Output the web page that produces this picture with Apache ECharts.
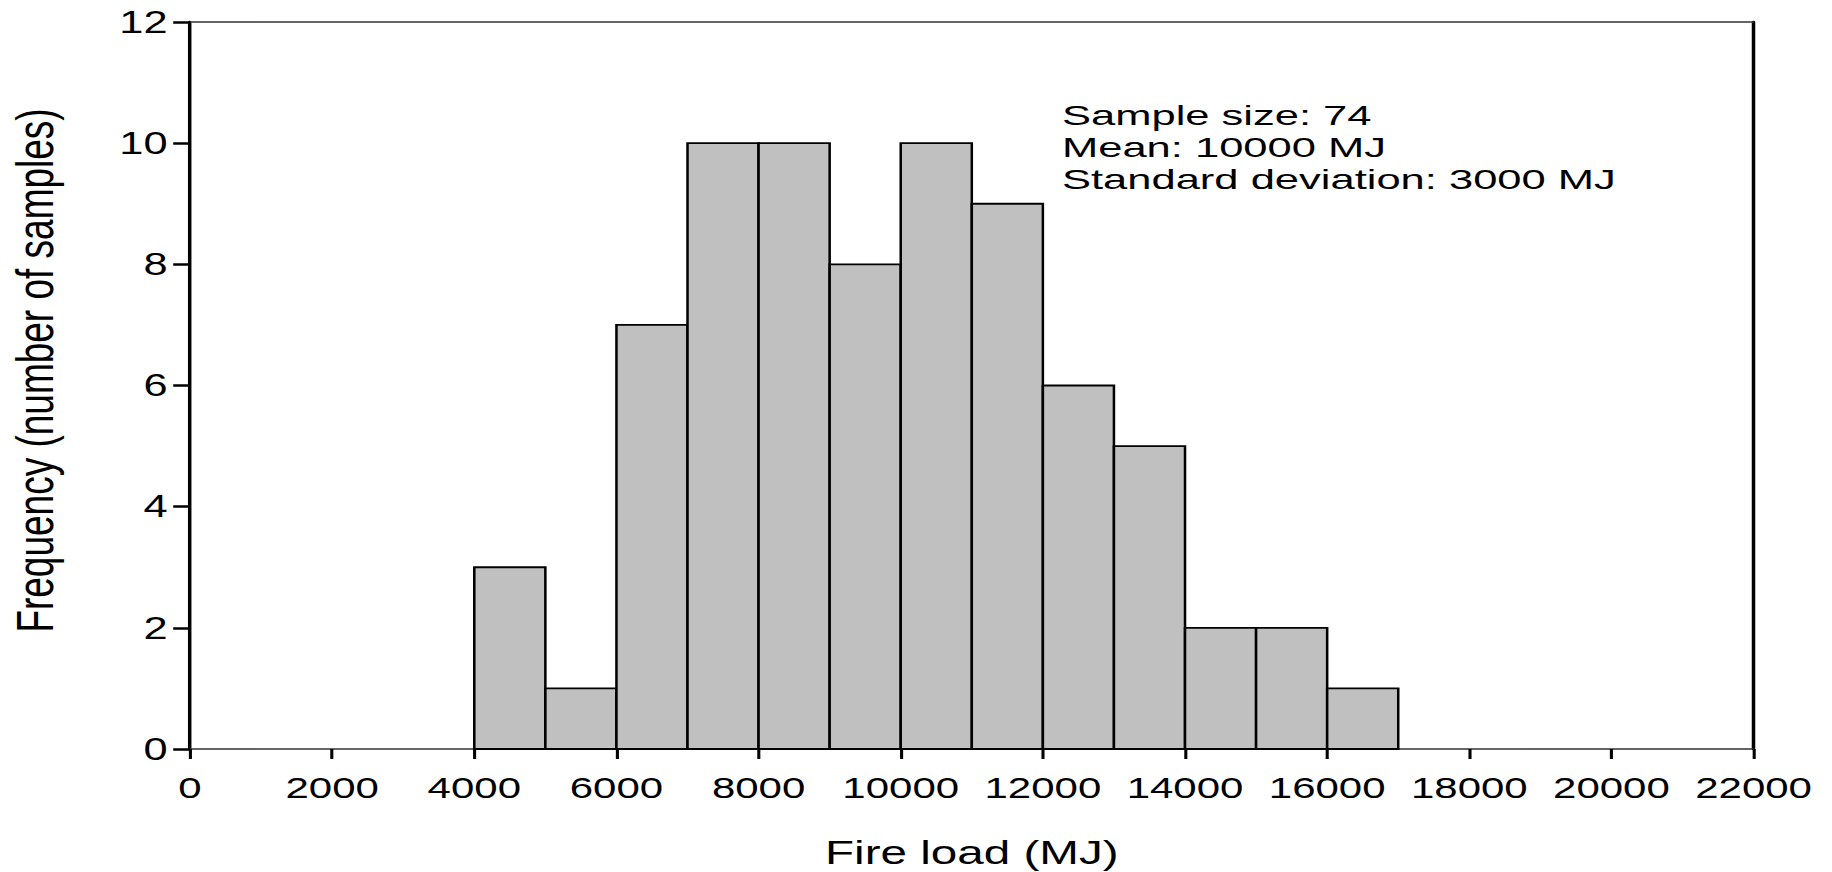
<!DOCTYPE html>
<html>
<head>
<meta charset="utf-8">
<script src="https://cdn.jsdelivr.net/npm/echarts@6/dist/echarts.min.js"></script>
<style>
  html, body { margin: 0; padding: 0; background: #fff; }
  #wrap { width: 1832px; height: 872px; overflow: hidden; position: relative; background: #fff; }
  #chart { height: 872px; transform-origin: 0 0; }
</style>
</head>
<body>
<div id="wrap"><div id="chart"></div></div>
<script>
// ---- data ----
const binLower = [4000, 5000, 6000, 7000, 8000, 9000, 10000, 11000, 12000, 13000, 14000, 15000, 16000];
const binUpper = [5000, 6000, 7000, 8000, 9000, 10000, 11000, 12000, 13000, 14000, 15000, 16000, 17000];
const counts   = [3, 1, 7, 10, 10, 8, 10, 9, 6, 5, 2, 2, 1];
const xMin = 0, xMax = 22000, xStep = 2000;
const yMin = 0, yMax = 12, yStep = 2;
const xTitle = 'Fire load (MJ)';
const yTitle = 'Frequency (number of samples)';
const notes = ['Sample size: 74', 'Mean: 10000 MJ', 'Standard deviation: 3000 MJ'];

// ---- layout (the original figure is horizontally stretched) ----
const K = 1.4;
const W = 1832 / K;
const el = document.getElementById('chart');
el.style.width = W + 'px';
el.style.transform = 'scaleX(' + K + ')';

const FONT = 'Liberation Sans, Arial, sans-serif';
const rows = binLower.map((lo, i) => [lo, binUpper[i], counts[i]]);
const plain = v => String(v);

const chart = echarts.init(el, null, { renderer: 'svg' });
chart.setOption({
  animation: false,
  backgroundColor: '#fff',
  grid: { left: 190 / K, right: (1832 - 1753) / K, top: 22, bottom: 123, containLabel: false, outerBoundsMode: 'none' },
  xAxis: [
    {
      type: 'value', position: 'bottom', min: xMin, max: xMax, interval: xStep,
      name: xTitle, nameLocation: 'middle', nameGap: 86,
      nameTextStyle: { fontFamily: FONT, fontSize: 34, color: '#000' },
      axisLine: { show: true, onZero: false, lineStyle: { color: '#333', width: 1.5 } },
      axisTick: { show: true, inside: false, length: 10, lineStyle: { color: '#000', width: 2.2 } },
      axisLabel: { show: true, margin: 24, fontFamily: FONT, fontSize: 30, color: '#000', formatter: plain },
      splitLine: { show: false }
    },
    {
      type: 'value', position: 'top', min: xMin, max: xMax, interval: xStep,
      axisLine: { show: true, onZero: false, lineStyle: { color: '#333', width: 1.5 } },
      axisTick: { show: false }, axisLabel: { show: false }, splitLine: { show: false }
    }
  ],
  yAxis: [
    {
      type: 'value', position: 'left', min: yMin, max: yMax, interval: yStep,
      name: yTitle, nameLocation: 'middle', nameRotate: 90, nameGap: 92,
      nameTextStyle: { fontFamily: FONT, fontSize: 37, color: '#000', padding: [0, 0, 0, 30] },
      axisLine: { show: true, onZero: false, lineStyle: { color: '#000', width: 2.5 } },
      axisTick: { show: true, inside: false, length: 12, lineStyle: { color: '#000', width: 2.5 } },
      axisLabel: { show: true, margin: 16, fontFamily: FONT, fontSize: 31, color: '#000', formatter: plain },
      splitLine: { show: false }
    },
    {
      type: 'value', position: 'right', min: yMin, max: yMax, interval: yStep,
      axisLine: { show: true, onZero: false, lineStyle: { color: '#000', width: 2.5 } },
      axisTick: { show: false }, axisLabel: { show: false }, splitLine: { show: false }
    }
  ],
  series: [{
    type: 'custom',
    xAxisIndex: 0, yAxisIndex: 0,
    data: rows,
    encode: { x: [0, 1], y: 2 },
    renderItem: function (params, api) {
      const p0 = api.coord([api.value(0), api.value(2)]);
      const p1 = api.coord([api.value(1), 0]);
      return {
        type: 'rect',
        shape: { x: p0[0], y: p0[1], width: p1[0] - p0[0], height: p1[1] - p0[1] },
        style: { fill: '#c0c0c0', stroke: '#000', lineWidth: 1.8 }
      };
    }
  }],
  graphic: [{
    type: 'text',
    left: 1062 / K, top: 99,
    scaleX: 1.11,
    style: {
      text: notes.join('\n'),
      fontFamily: FONT, fontSize: 28, lineHeight: 32, fill: '#000'
    }
  }]
});
</script>
</body>
</html>
